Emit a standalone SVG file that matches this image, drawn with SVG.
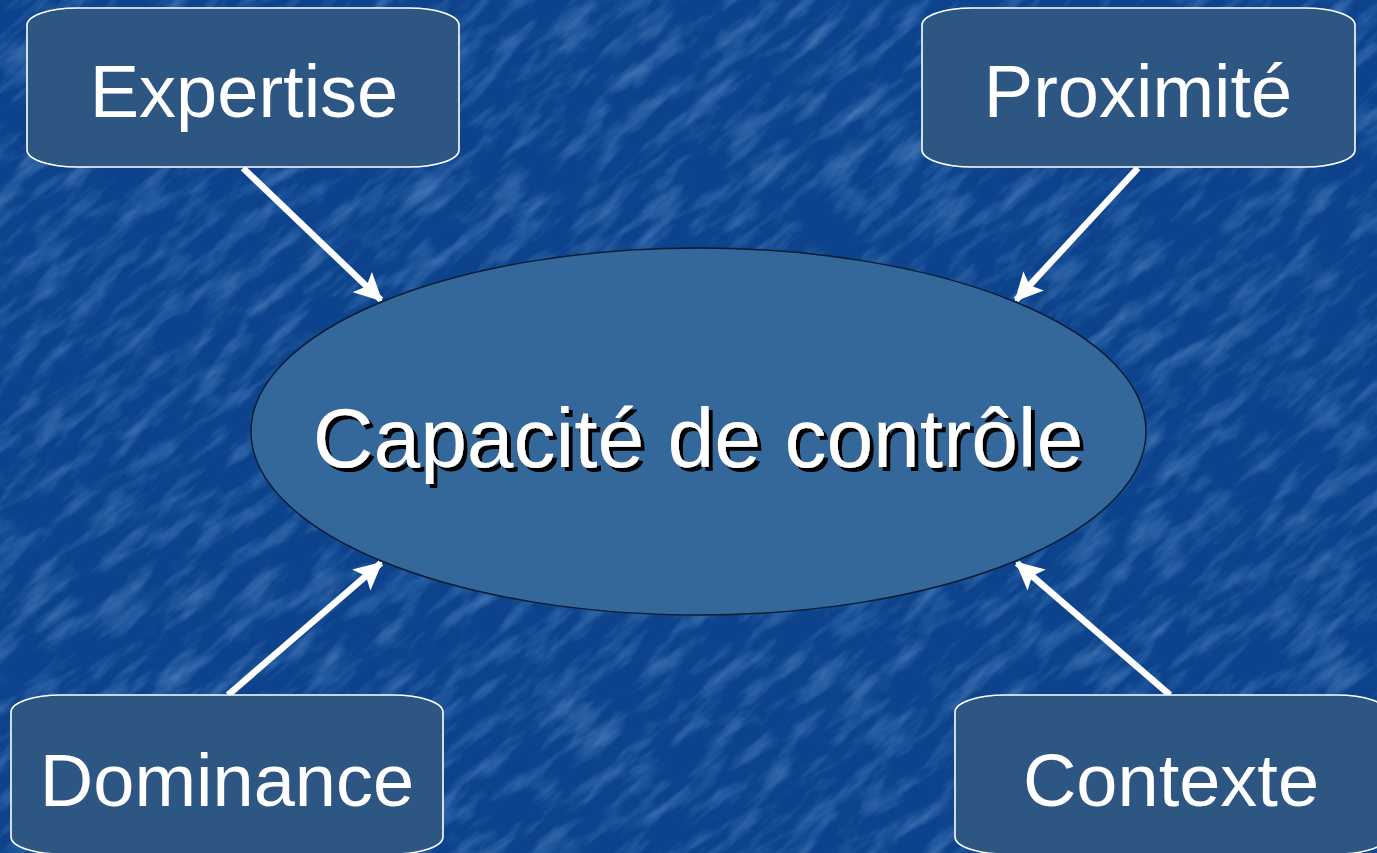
<svg xmlns="http://www.w3.org/2000/svg" width="1377" height="853" viewBox="0 0 1377 853">
  <defs>
    <style>
      .box { fill: #2d5682; stroke: #ffffff; stroke-width: 1.6; }
      .lbl { font-family: "Liberation Sans", Arial, sans-serif; font-size: 74px; fill: #ffffff; text-anchor: middle; }
      .main { font-family: "Liberation Sans", Arial, sans-serif; font-size: 84px; fill: #ffffff; text-anchor: middle; filter: url(#shade); }
      .link { stroke: #ffffff; stroke-width: 6.5; fill: none; marker-end: url(#head); }
    </style>
    <marker id="head" markerUnits="userSpaceOnUse" viewBox="0 0 28 28" refX="26" refY="14" markerWidth="28" markerHeight="28" orient="auto">
      <path d="M0,0 L28,14 L0,28 L6,14 Z" fill="#ffffff"/>
    </marker>
    <!-- hard black drop shadow for the centre title -->
    <filter id="shade" x="-5%" y="-20%" width="110%" height="140%">
      <feFlood flood-color="#000000"/>
      <feComposite in2="SourceAlpha" operator="in"/>
      <feOffset dx="4" dy="4" result="sh"/>
      <feMerge>
        <feMergeNode in="sh"/>
        <feMergeNode in="SourceGraphic"/>
      </feMerge>
    </filter>
    <filter id="grain" x="0" y="0" width="100%" height="100%">
      <feTurbulence type="fractalNoise" baseFrequency="0.018 0.06" numOctaves="4" seed="11"/>
      <feColorMatrix values="0 0 0 0 0.20  0 0 0 0 0.45  0 0 0 0 0.78  0.9 0 0 0 -0.40"/>
    </filter>
  </defs>

  <!-- mottled blue backdrop -->
  <rect width="1377" height="853" fill="#0d438c"/>
  <g transform="rotate(-40 688 426)">
    <rect x="-500" y="-600" width="2400" height="2100" filter="url(#grain)"/>
  </g>

  <!-- connectors -->
  <g id="connectors">
    <line class="link" x1="243" y1="168" x2="381" y2="300"/>
    <line class="link" x1="1138" y1="168" x2="1016" y2="300"/>
    <line class="link" x1="228" y1="695" x2="381" y2="563"/>
    <line class="link" x1="1170" y1="695" x2="1017" y2="563"/>
  </g>

  <g id="node-capacite">
    <ellipse cx="698.5" cy="431.5" rx="447.5" ry="183.5" fill="#35689a" stroke="#0c1c33" stroke-width="1.5"/>
    <text class="main" x="698" y="467">Capacité de contrôle</text>
  </g>

  <g id="node-expertise">
    <rect class="box" x="27" y="8" width="432" height="159" rx="50" ry="17"/>
    <text class="lbl" x="244" y="117">Expertise</text>
  </g>

  <g id="node-proximite">
    <rect class="box" x="922" y="8" width="433" height="159" rx="50" ry="17"/>
    <text class="lbl" x="1138" y="117">Proximité</text>
  </g>

  <g id="node-dominance">
    <rect class="box" x="11" y="695" width="432" height="159" rx="50" ry="17"/>
    <text class="lbl" x="227" y="806">Dominance</text>
  </g>

  <g id="node-contexte">
    <rect class="box" x="955" y="695" width="432" height="159" rx="50" ry="17"/>
    <text class="lbl" x="1171" y="806">Contexte</text>
  </g>
</svg>
